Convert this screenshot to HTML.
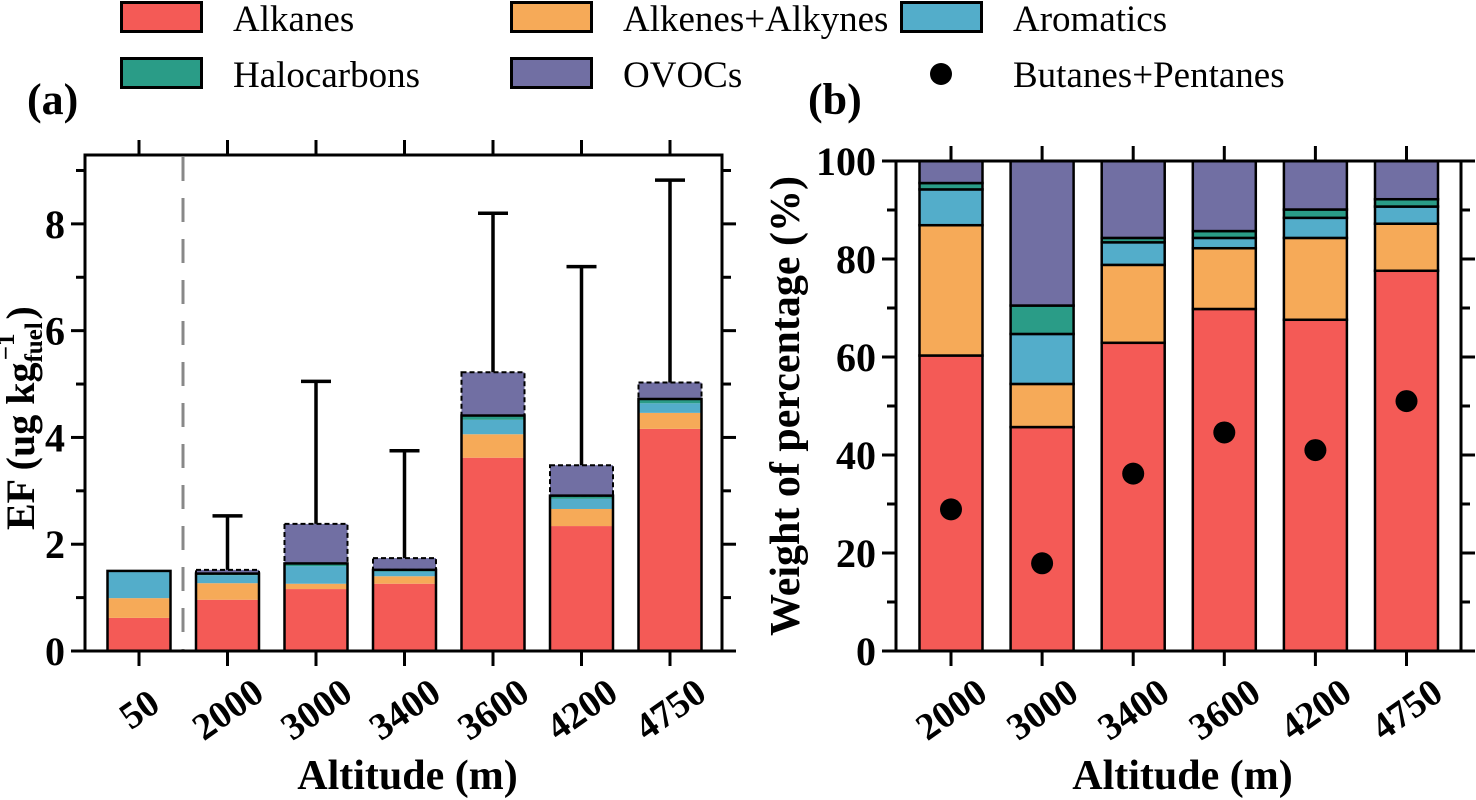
<!DOCTYPE html>
<html><head><meta charset="utf-8"><style>
html,body{margin:0;padding:0;background:#fff;}
svg{display:block;font-family:"Liberation Serif",serif;}
</style></head><body>
<svg id="fig" width="1476" height="800" viewBox="0 0 1476 800">
<g id="legend"></g>
<g id="pa"></g>
<g id="pb"></g>
</svg>
<script>
// Panel (a) data: component values (ug/kg)
const catsA = ["50","2000","3000","3400","3600","4200","4750"];
const alkA = [0.62,0.96,1.16,1.26,3.62,2.34,4.16];
const aleA = [0.37,0.31,0.10,0.14,0.44,0.32,0.30];
const aroA = [0.51,0.15,0.33,0.09,0.27,0.19,0.18];
const halA = [0.00,0.03,0.05,0.03,0.08,0.06,0.08];
const ovoA = [0.00,0.07,0.74,0.22,0.81,0.57,0.31];
const errA = [null,2.53,5.05,3.75,8.2,7.2,8.82];
const ticksA = [0,2,4,6,8];
// Panel (b) data (%)
const catsB = ["2000","3000","3400","3600","4200","4750"];
const alkB = [60.3,45.7,62.9,69.8,67.6,77.6];
const aleB = [26.6,8.8,15.9,12.4,16.7,9.6];
const aroB = [7.3,10.2,4.6,2.1,4.1,3.5];
const halB = [1.3,5.8,0.9,1.4,1.7,1.5];
const ovoB = [4.5,29.5,15.7,14.3,9.9,7.8];
const dotB = [28.9,17.9,36.2,44.6,41.0,51.0];
const ticksB = [0,20,40,60,80,100];

const NS="http://www.w3.org/2000/svg";
const cols=["#f45a56","#f6aa58","#53adca","#2a9c87","#716fa3"];
function mk(p,tag,a,txt){const e=document.createElementNS(NS,tag);for(const k in a)e.setAttribute(k,a[k]);if(txt!==undefined)e.textContent=txt;p.appendChild(e);return e;}

// Legend
const lg=document.getElementById('legend');
const legItems=[["Alkanes",120,0,0],["Alkenes+Alkynes",510,0,1],["Aromatics",900,0,2],["Halocarbons",120,1,3],["OVOCs",510,1,4]];
legItems.forEach(it=>{
  const y=it[2]?57:1;
  const r=mk(lg,'rect',{x:it[1]+1.5,y:y+1.5,width:80,height:29,fill:cols[it[3]],stroke:'#000','stroke-width':3});
  
  
  const t=mk(lg,'text',{x:it[1]+113,y:y+30,'font-size':37,textLength:0},it[0]);
  t.removeAttribute('textLength');
  
  
});
const ld=mk(lg,'circle',{cx:941,cy:74,r:11,fill:'#000'});


const ldt=mk(lg,'text',{x:1013,y:87,'font-size':37},"Butanes+Pentanes");



function axisFrame(g,L,R,T,B,yS,ticks,minorStep,ymax,cx,cats,xlabel){
  for(let v=0;v<=ymax+1e-9;v+=minorStep){
    const y=yS(v);const major=ticks.includes(Math.round(v*1000)/1000);
    const len=major?14:9;
    mk(g,'line',{x1:L-len,x2:L,y1:y,y2:y,stroke:'#000','stroke-width':3});
    mk(g,'line',{x1:R,x2:R+len,y1:y,y2:y,stroke:'#000','stroke-width':3});
  }
  ticks.forEach(v=>{const t=mk(g,'text',{x:L-20,y:yS(v)+14,'font-size':40,'font-weight':'bold','text-anchor':'end'},String(v));
    
    });
  cats.forEach((c,i)=>{const x=cx(i);
    mk(g,'line',{x1:x,x2:x,y1:B,y2:B+15,stroke:'#000','stroke-width':3});
    mk(g,'line',{x1:x,x2:x,y1:T-15,y2:T,stroke:'#000','stroke-width':3});
    const ay=B+58;
    const t=mk(g,'text',{x:x,y:ay+13,'font-size':38,'font-weight':'bold','text-anchor':'middle',transform:`rotate(-35 ${x} ${ay})`},c);
    
    
  });
  const fr=mk(g,'rect',{x:L,y:T,width:R-L,height:B-T,fill:'none',stroke:'#000','stroke-width':3});
  
  
  const xl=mk(g,'text',{x:(L+R)/2+4,y:789,'font-size':42,'font-weight':'bold','text-anchor':'middle'},xlabel);
  
  
}

// Panel a
(function(){
  const g=document.getElementById('pa');
  const L=85,R=722,T=155,B=651,ymax=9.29;
  const yS=v=>B-v/ymax*(B-T);
  const cx=i=>139+i*88.5;
  const bw=63;
  const dl=mk(g,'line',{x1:183,x2:183,y1:T+2,y2:B,stroke:'#888','stroke-width':3,'stroke-dasharray':'24,17'});
  
  
  const series=[alkA,aleA,aroA,halA,ovoA];
  catsA.forEach((c,i)=>{
    const x=cx(i)-bw/2;let base=0;
    const bg=mk(g,'g',{});
    
    
    series.forEach((s,k)=>{
      if(s[i]<=0)return;
      const r=mk(bg,'rect',{x:x,y:yS(base+s[i]),width:bw,height:yS(base)-yS(base+s[i]),fill:cols[k]});
      
      
      base+=s[i];
    });
    const solidTop=alkA[i]+aleA[i]+aroA[i]+halA[i];
    mk(bg,'rect',{x:x,y:yS(solidTop),width:bw,height:B-yS(solidTop),fill:'none',stroke:'#000','stroke-width':2.5});
    if(ovoA[i]>0){
      mk(bg,'rect',{x:x,y:yS(base),width:bw,height:yS(solidTop)-yS(base),fill:'none',stroke:'#000','stroke-width':2,'stroke-dasharray':'5,3'});
    }
    if(errA[i]!==null){
      const e=mk(bg,'path',{d:`M${cx(i)} ${yS(base)} V${yS(errA[i])} M${cx(i)-15} ${yS(errA[i])} H${cx(i)+15}`,stroke:'#000','stroke-width':3.5,fill:'none'});
      
      
    }
  });
  axisFrame(g,L,R,T,B,yS,ticksA,1,9,cx,catsA,'Altitude (m)');
  const yl=mk(g,'text',{transform:'translate(34 530) rotate(-90)','font-size':40,'font-weight':'bold'});
  
  
  yl.innerHTML='EF (ug kg<tspan font-size="25" dy="8">fuel</tspan><tspan font-size="25" dx="-38" dy="-28">−1</tspan><tspan dy="20" dx="14">)</tspan>';
  const pl=mk(g,'text',{x:27,y:114,'font-size':44,'font-weight':'bold'},'(a)');
  
  
})();

// Panel b
(function(){
  const g=document.getElementById('pb');
  const L=896,R=1461,T=161,B=651,ymax=100;
  const yS=v=>B-v/ymax*(B-T);
  const cx=i=>951+i*91.1;
  const bw=63;
  const series=[alkB,aleB,aroB,halB,ovoB];
  catsB.forEach((c,i)=>{
    const x=cx(i)-bw/2;let base=0;
    const bg=mk(g,'g',{});
    
    
    series.forEach((s,k)=>{
      const r=mk(bg,'rect',{x:x,y:yS(base+s[i]),width:bw,height:yS(base)-yS(base+s[i]),fill:cols[k],stroke:'#000','stroke-width':2.5});
      
      
      base+=s[i];
    });
    const d=mk(bg,'circle',{cx:cx(i),cy:yS(dotB[i]),r:11,fill:'#000'});
    
    
  });
  axisFrame(g,L,R,T,B,yS,ticksB,10,100,cx,catsB,'Altitude (m)');
  const yl=mk(g,'text',{transform:'translate(799 406) rotate(-90)','font-size':42,'font-weight':'bold','text-anchor':'middle'},'Weight of percentage (%)');
  
  
  const pl=mk(g,'text',{x:808,y:114,'font-size':44,'font-weight':'bold'},'(b)');
  
  
})();
</script>
</body></html>
